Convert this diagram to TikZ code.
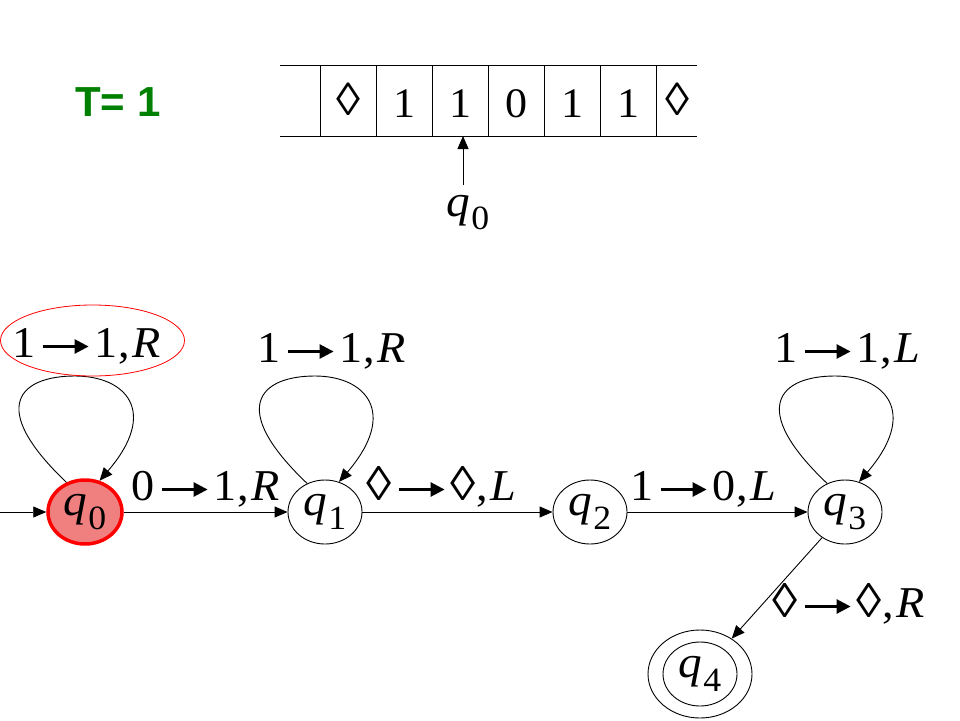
\documentclass[tikz,border=0pt]{standalone}
\usepackage{fontspec}
\usepackage{graphicx}
\setmainfont{Liberation Serif}[FakeStretch=1.05]
\newfontfamily\tsans{Liberation Sans}
\usetikzlibrary{shapes.geometric,arrows.meta}
\definecolor{tgreen}{RGB}{0,128,0}
\definecolor{qfill}{RGB}{240,128,128}
\newcommand{\qsub}[1]{\textit{q}\kern0.02em\raisebox{-0.3em}{\fontsize{34}{34}\selectfont #1}}
\newcommand{\rarr}{\hspace{6pt}\tikz[baseline=0pt,x=1pt,y=1pt]{\draw[line width=2.6pt,-{Triangle[length=14pt,width=14pt]}] (0,10.5)--(46,10.5);}\hspace{5pt}}
\newcommand{\dia}{\scalebox{1.1}{◊}}
\begin{document}
\begin{tikzpicture}[x=1pt,y=-1pt,
  arr/.style={line width=0.9pt, -{Triangle[length=13pt,width=11pt]}},
  thin line/.style={line width=0.9pt},
  st/.style={draw, ellipse, line width=0.9pt, minimum width=74pt, minimum height=64pt, inner sep=0pt, font=\fontsize{45}{45}\selectfont},
  lab/.style={anchor=base west, inner sep=0pt, font=\fontsize{44}{44}\selectfont},
  tsym/.style={anchor=base, inner sep=0pt, font=\fontsize{42}{42}\selectfont},
]
\useasboundingbox (0,0) rectangle (960,720);
% title
\node[anchor=base west, inner sep=0pt, text=tgreen, font=\tsans\bfseries\fontsize{42}{42}\selectfont] (title) at (75,116) {T= 1};
% tape
\draw[thin line] (280,65) -- (697,65);
\draw[thin line] (280,136) -- (697,136);
\foreach \x in {320.5,376.5,432.5,488.5,544.5,600.5,656.5} \draw[thin line] (\x,65) -- (\x,136);
\node[tsym] (c1) at (348.5,115) {\dia};
\node[tsym] (c2) at (404.5,117) {1};
\node[tsym] (c3) at (460.5,117) {1};
\node[tsym] (c4) at (516.5,117) {0};
\node[tsym] (c5) at (572.5,117) {1};
\node[tsym] (c6) at (628.5,117) {1};
\node[tsym] (c7) at (677,115) {\dia};
\coordinate (head) at (463,136);
\node[anchor=base, inner sep=0pt, font=\fontsize{45}{45}\selectfont] (hq) at (468,216) {\qsub{0}};
\draw[arr] (463,185) -- (head);
% states
\node[st, fill=qfill, draw=red, line width=3.5pt] (q0) at (85,512) {\qsub{0}};
\node[st] (q1) at (325,512) {\qsub{1}};
\node[st] (q2) at (590,512) {\qsub{2}};
\node[st] (q3) at (845,512) {\qsub{3}};
\node[st] (q4) at (700,674) {\qsub{4}};
\node[draw, ellipse, line width=0.9pt, minimum width=104pt, minimum height=88pt, inner sep=0pt] (q4o) at (700,674) {};
\coordinate (init) at (0,512);
% edges
\draw[arr] (init) -- (q0);
\draw[arr] (q0) -- (q1);
\draw[arr] (q1) -- (q2);
\draw[arr] (q2) -- (q3);
\draw[arr] (q3) -- (q4o);
% loops
\foreach \q in {q0,q1,q3}
  \draw[arr] (\q.122) .. controls +(-80,-76) and +(-55,0) .. ([shift={(-10,-136)}]\q.center)
     .. controls +(50,0) and +(60,-70) .. (\q.65);
% labels
\node[lab] (l00) at (12,357) {1\rarr 1,\hspace{3pt}\textit{R}};
\draw[red, line width=0.8pt] (92.5,340.5) ellipse [x radius=92, y radius=35.5];
\node[lab] (l01) at (131,500) {0\rarr 1,\hspace{3pt}\textit{R}};
\node[lab] (l11) at (257,362) {1\rarr 1,\hspace{3pt}\textit{R}};
\node[lab] (l12) at (366,500) {\dia\rarr \dia,\hspace{3pt}\textit{L}};
\node[lab] (l23) at (630,500) {1\rarr 0,\hspace{3pt}\textit{L}};
\node[lab] (l33) at (774,362) {1\rarr 1,\hspace{3pt}\textit{L}};
\node[lab] (l34) at (772,617) {\dia\rarr \dia,\hspace{3pt}\textit{R}};
\end{tikzpicture}
\end{document}
